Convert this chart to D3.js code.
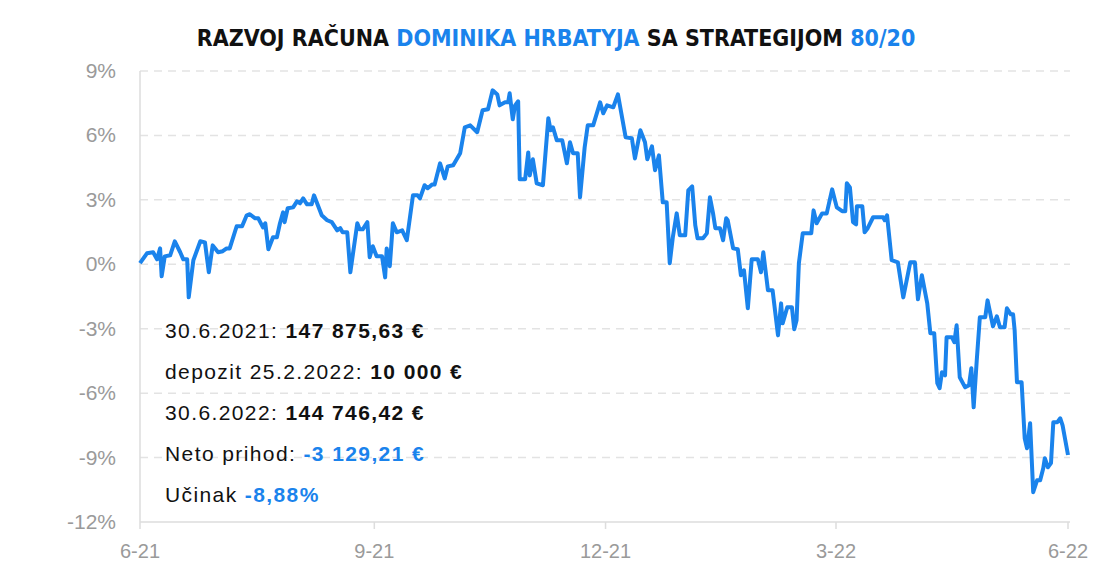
<!DOCTYPE html><html><head><meta charset="utf-8">
<script src="https://cdn.jsdelivr.net/npm/d3@7"></script>
<style>body{margin:0;background:#fff}text{font-family:"Helvetica Neue","Liberation Sans",Roboto,sans-serif}</style></head><body>
<svg id="c" width="1111" height="575"></svg>
<script>
const months=[0,0.09,0.17,0.22,0.26,0.28,0.32,0.39,0.45,0.52,0.56,0.61,0.63,0.69,0.78,0.84,0.89,0.94,1.01,1.07,1.12,1.16,1.25,1.32,1.38,1.42,1.49,1.53,1.59,1.62,1.66,1.72,1.77,1.81,1.85,1.87,1.91,1.98,2.03,2.07,2.11,2.16,2.22,2.25,2.35,2.42,2.48,2.55,2.59,2.62,2.68,2.72,2.81,2.84,2.88,2.94,2.97,3.01,3.06,3.13,3.17,3.19,3.23,3.27,3.32,3.39,3.45,3.53,3.59,3.62,3.68,3.72,3.78,3.81,3.88,3.94,3.98,4.05,4.14,4.20,4.27,4.36,4.43,4.50,4.56,4.62,4.65,4.72,4.76,4.78,4.82,4.85,4.89,4.91,4.98,5.02,5.04,5.08,5.13,5.21,5.28,5.31,5.34,5.39,5.46,5.52,5.56,5.60,5.66,5.69,5.75,5.79,5.86,5.95,5.99,6.04,6.12,6.18,6.28,6.36,6.40,6.47,6.53,6.56,6.62,6.66,6.71,6.76,6.81,6.85,6.89,6.94,6.98,7.05,7.09,7.14,7.18,7.21,7.28,7.33,7.37,7.41,7.44,7.50,7.54,7.58,7.60,7.67,7.73,7.77,7.81,7.86,7.91,7.99,8.03,8.06,8.12,8.18,8.25,8.29,8.31,8.37,8.43,8.46,8.49,8.52,8.57,8.68,8.71,8.75,8.82,8.88,8.95,9.01,9.08,9.12,9.14,9.18,9.22,9.26,9.27,9.34,9.37,9.41,9.48,9.61,9.63,9.66,9.72,9.80,9.87,9.96,10.02,10.06,10.11,10.18,10.22,10.27,10.31,10.34,10.37,10.41,10.43,10.50,10.53,10.56,10.60,10.67,10.72,10.75,10.78,10.82,10.86,10.93,10.96,11.03,11.08,11.12,11.18,11.21,11.26,11.29,11.31,11.34,11.40,11.44,11.47,11.51,11.55,11.60,11.64,11.68,11.70,11.74,11.78,11.81,11.86,11.90,11.93,12.00];
const returns=[0.05,0.51,0.56,0.23,0.74,-0.56,0.37,0.42,1.07,0.56,0.23,0.23,-1.54,0.19,1.07,1.02,-0.37,0.88,0.56,0.61,0.74,0.74,1.77,1.77,2.28,2.33,2.14,2.14,1.72,1.91,0.70,1.26,1.26,1.91,2.42,1.96,2.61,2.65,2.93,2.84,3.07,2.79,2.79,3.21,2.28,2.05,1.96,1.58,1.68,1.49,1.49,-0.37,1.91,1.63,1.63,1.96,0.33,0.84,0.37,0.37,-0.61,0.74,-0.09,1.91,1.49,1.58,1.12,3.21,3.21,3.07,3.68,3.54,3.72,3.72,4.70,4.00,4.56,4.61,5.17,6.38,6.47,6.15,7.17,7.22,8.10,7.91,7.40,7.54,7.54,7.96,6.75,7.40,7.59,3.96,3.96,5.21,4.14,4.89,3.77,3.68,6.80,6.24,6.38,5.77,5.77,4.70,5.68,5.17,5.17,3.12,5.45,6.47,6.47,7.54,7.03,7.40,7.31,7.91,5.91,5.87,4.93,6.24,5.68,4.89,5.49,4.38,5.07,2.89,2.89,0.05,1.26,2.37,1.35,1.35,3.44,3.63,1.82,1.21,1.21,1.44,3.12,2.37,1.68,1.68,1.12,2.14,2.05,0.74,0.70,-0.51,-0.28,-2.05,0.23,0.23,-0.37,0.56,-1.21,-1.21,-3.31,-1.82,-2.75,-2.00,-2.00,-3.03,-2.61,0.05,1.44,1.44,2.51,1.91,2.37,2.37,3.49,2.65,2.47,2.47,3.77,3.58,1.96,1.86,2.70,2.70,1.49,1.68,2.19,2.19,2.05,2.28,0.19,0.09,-1.54,0.09,0.09,-1.63,-0.51,-1.82,-3.21,-3.21,-5.54,-5.77,-5.03,-5.17,-3.40,-3.40,-3.63,-2.84,-5.26,-5.73,-5.63,-4.84,-6.66,-4.47,-2.47,-2.47,-1.68,-2.89,-2.42,-2.93,-2.93,-2.05,-2.33,-2.33,-3.07,-5.49,-5.49,-8.10,-8.57,-7.40,-10.61,-10.06,-10.06,-9.50,-9.03,-9.45,-9.26,-7.36,-7.36,-7.17,-7.50,-8.88];
const xTicks=[0,3.03,6.02,9.0,12], xTickLabels=["6-21","9-21","12-21","3-22","6-22"];
const yTicks=[9,6,3,0,-3,-6,-9,-12];
const notes=[[["30.6.2021: ",""],["147 875,63 €","b"]],[["depozit 25.2.2022: ",""],["10 000 €","b"]],[["30.6.2022: ",""],["144 746,42 €","b"]],[["Neto prihod: ",""],["-3 129,21 €","c"]],[["Učinak ",""],["-8,88%","c"]]];
const blue="#1a83ec";
const svg=d3.select("#c");
const x=d3.scaleLinear().domain([0,12]).range([140,1068]);
const y=d3.scaleLinear().domain([-12,9]).range([522,71]);
svg.append("g").selectAll("line").data(yTicks.filter(d=>d>-12)).join("line").attr("x1",140).attr("x2",1070).attr("y1",d=>y(d)).attr("y2",d=>y(d)).attr("stroke","#e3e3e3").attr("stroke-width",1.5).attr("stroke-dasharray","8,6");
svg.append("line").attr("x1",140).attr("x2",1070).attr("y1",y(-12)).attr("y2",y(-12)).attr("stroke","#ddd").attr("stroke-width",1.5);
svg.append("line").attr("x1",140).attr("x2",140).attr("y1",y(9)).attr("y2",y(-12)).attr("stroke","#ddd").attr("stroke-width",1.5);
svg.append("g").selectAll("text").data(yTicks).join("text").attr("x",116).attr("y",d=>y(d)+7).attr("text-anchor","end").attr("fill","#9a9a9a").attr("font-size",21).text(d=>d+"%");
svg.append("g").selectAll("line").data(xTicks).join("line").attr("x1",d=>x(d)).attr("x2",d=>x(d)).attr("y1",522).attr("y2",529).attr("stroke","#ddd").attr("stroke-width",1.5);
svg.append("g").selectAll("text").data(xTicks).join("text").attr("x",d=>x(d)).attr("y",558).attr("text-anchor","middle").attr("fill","#9a9a9a").attr("font-size",20).text((d,i)=>xTickLabels[i]);
svg.append("path").datum(months.map((m,i)=>[m,returns[i]])).attr("d",d3.line().x(d=>x(d[0])).y(d=>y(d[1]))).attr("fill","none").attr("stroke",blue).attr("stroke-width",4).attr("stroke-linejoin","round");
const t=svg.append("text").attr("x",556).attr("y",46).attr("text-anchor","middle").attr("font-size",23).attr("font-weight","bold").style("font-family","'Liberation Sans Narrow','DejaVu Sans Condensed',sans-serif").attr("font-stretch","condensed");
[["RAZVOJ RAČUNA ","#111"],["DOMINIKA HRBATYJA ",blue],["SA STRATEGIJOM ","#111"],["80/20",blue]].forEach(p=>t.append("tspan").attr("fill",p[1]).text(p[0]));
notes.forEach((n,i)=>{const tt=svg.append("text").attr("x",165).attr("y",338+i*41).attr("font-size",21).attr("letter-spacing",1.4);
 n.forEach(p=>tt.append("tspan").text(p[0]).attr("font-weight",p[1]?"bold":"normal").attr("fill",p[1]==="c"?blue:"#111"));});
</script></body></html>
